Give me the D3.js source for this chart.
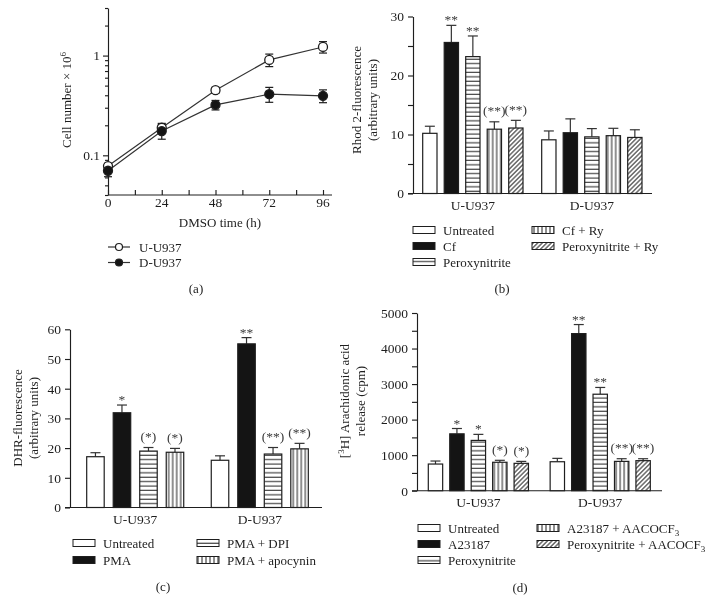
<!DOCTYPE html>
<html><head><meta charset="utf-8">
<script src="https://cdn.jsdelivr.net/npm/d3@7/dist/d3.min.js"></script>
<style>
html,body{margin:0;padding:0;background:#fff;}
svg text{font-family:"Liberation Serif","Times New Roman",serif;fill:#1e1e1e;}
</style></head><body>
<svg id="c" width="716" height="613"></svg>
<script>
// ---------- Panel (a) data ----------
const aTimes = [0, 24, 48, 72, 96];
const aUval = [0.078, 0.189, 0.45, 0.905, 1.22];
const aUerr = [0.005, 0.02, 0.03, 0.13, 0.16];
const aDval = [0.070, 0.175, 0.32, 0.41, 0.395];
const aDerr = [0.009, 0.03, 0.035, 0.07, 0.058];
const aXticks = [0, 24, 48, 72, 96];
const aYmajor = [0.1, 1];
const aLegend = ["U-U937", "D-U937"];

// ---------- Panel (b) data ----------
const groups = ["U-U937", "D-U937"];
const bSeries = ["Untreated", "Cf", "Peroxynitrite", "Cf + Ry", "Peroxynitrite + Ry"];
const bU = [10.2, 25.6, 23.2, 10.9, 11.1];
const bUerr = [1.2, 2.9, 3.5, 1.25, 1.3];
const bD = [9.1, 10.3, 9.6, 9.8, 9.5];
const bDerr = [1.5, 2.35, 1.4, 1.25, 1.3];
const bSigU = ["", "**", "**", "(**)", "(**)"];
const bSigD = ["", "", "", "", ""];
const bYticks = [0, 10, 20, 30];

// ---------- Panel (c) data ----------
const cSeries = ["Untreated", "PMA", "PMA + DPI", "PMA + apocynin"];
const cU = [17.1, 31.9, 19.0, 18.6];
const cUerr = [1.35, 2.6, 1.2, 1.3];
const cD = [15.9, 55.1, 18.0, 19.75];
const cDerr = [1.5, 2.1, 2.2, 1.85];
const cSigU = ["", "*", "(*)", "(*)"];
const cSigD = ["", "**", "(**)", "(**)"];
const cYticks = [0, 10, 20, 30, 40, 50, 60];

// ---------- Panel (d) data ----------
const dSeries = ["Untreated", "A23187", "Peroxynitrite", "A23187 + AACOCF3", "Peroxynitrite + AACOCF3"];
const dU = [750, 1600, 1415, 800, 770];
const dUerr = [85, 150, 170, 55, 55];
const dD = [815, 4420, 2715, 825, 845];
const dDerr = [95, 255, 190, 75, 55];
const dSigU = ["", "*", "*", "(*)", "(*)"];
const dSigD = ["", "**", "**", "(**)", "(**)"];
const dYticks = [0, 1000, 2000, 3000, 4000, 5000];

const root = d3.select("#c");
const INK = "#1e1e1e";
const defs = root.append("defs");
const gf = defs.append("filter").attr("id", "gray").attr("filterUnits", "userSpaceOnUse")
  .attr("x", 0).attr("y", 0).attr("width", 716).attr("height", 613);
gf.append("feColorMatrix").attr("type", "saturate").attr("values", 0);
const svg = root.append("g").attr("filter", "url(#gray)");
svg.append("rect").attr("width", 716).attr("height", 613).attr("fill", "#fff");

// patterns
function mkPattern(id, w, h, draw, transform) {
  const p = defs.append("pattern").attr("id", id).attr("patternUnits", "userSpaceOnUse")
    .attr("width", w).attr("height", h);
  if (transform) p.attr("patternTransform", transform);
  p.append("rect").attr("width", w).attr("height", h).attr("fill", "#fff");
  draw(p);
}
mkPattern("hl", 8, 4.4, p => p.append("line").attr("x1", 0).attr("x2", 8).attr("y1", 2).attr("y2", 2).attr("stroke", INK).attr("stroke-width", 1));
mkPattern("vl", 4, 8, p => p.append("line").attr("x1", 2).attr("x2", 2).attr("y1", 0).attr("y2", 8).attr("stroke", INK).attr("stroke-width", 1));
mkPattern("dg", 3.2, 8, p => p.append("line").attr("x1", 1.6).attr("x2", 1.6).attr("y1", 0).attr("y2", 8).attr("stroke", INK).attr("stroke-width", 1), "rotate(45)");
const fills = {white: "#fff", black: "#141414", hl: "url(#hl)", vl: "url(#vl)", dg: "url(#dg)"};

function styleAxis(g, fs) {
  g.attr("font-family", null).attr("font-size", null);
  g.selectAll("text").attr("font-size", fs || 13.5).style("fill", INK);
  g.selectAll("line,path").attr("stroke", INK).attr("stroke-width", 1.15);
}

function yTitle(x, y, lines) {
  const t = svg.append("text").attr("transform", `translate(${x},${y}) rotate(-90)`)
    .attr("text-anchor", "middle").attr("font-size", 13);
  lines.forEach((ln, i) => {
    const ts = t.append("tspan").attr("x", 0).attr("dy", i === 0 ? 0 : 16);
    ln.forEach(part => {
      const s = ts.append("tspan").text(part.t);
      if (part.sup) s.attr("font-size", 9).attr("baseline-shift", "super");
      if (part.sub) s.attr("font-size", 9).attr("baseline-shift", "sub");
    });
  });
  return t;
}

// ================= Panel (a) =================
(function () {
  const x = d3.scaleLinear().domain([0, 96]).range([108, 323]);
  const y = d3.scaleLog().domain([0.04, 3]).range([195, 8]);
  const minor = [];
  [0.01, 0.1, 1].forEach(dec => { for (let k = 2; k <= 9; k++) { const v = dec * k; if (v >= 0.04 && v <= 3.0001) minor.push(v); } });
  const gyMin = svg.append("g").attr("transform", "translate(108,0)")
    .call(d3.axisLeft(y).tickValues(minor).tickSize(3).tickFormat("").tickSizeOuter(0));
  styleAxis(gyMin);
  gyMin.select(".domain").remove();
  const gy = svg.append("g").attr("transform", "translate(108,0)")
    .call(d3.axisLeft(y).tickValues(aYmajor).tickSize(5).tickPadding(3).tickFormat(d3.format("")).tickSizeOuter(0));
  styleAxis(gy);
  const gx = svg.append("g").attr("transform", "translate(0,195)")
    .call(d3.axisBottom(x).tickValues(d3.range(0, 97, 12)).tickSize(-5).tickFormat("").tickSizeOuter(0));
  styleAxis(gx);
  gx.select(".domain").attr("d", "M108,0H332");
  svg.append("g").selectAll("text").data(aXticks).join("text")
    .attr("x", d => x(d)).attr("y", 207).attr("text-anchor", "middle").attr("font-size", 13.5).text(d => d);
  svg.append("text").attr("x", 220).attr("y", 226.5).attr("text-anchor", "middle").attr("font-size", 13).text("DMSO time (h)");
  const yt = svg.append("text").attr("transform", "translate(71,100) rotate(-90)").attr("text-anchor", "middle").attr("font-size", 13);
  yt.append("tspan").text("Cell number × 10");
  yt.append("tspan").text("6").attr("font-size", 9).attr("baseline-shift", "super");

  const series = [
    {vals: aUval, err: aUerr, fill: "#fff"},
    {vals: aDval, err: aDerr, fill: "#141414"}
  ];
  const line = d3.line().x((d, i) => x(aTimes[i])).y(d => y(d));
  series.forEach(s => {
    svg.append("path").attr("d", line(s.vals)).attr("fill", "none").attr("stroke", "#333").attr("stroke-width", 1.2);
  });
  series.forEach(s => {
    const g = svg.append("g");
    s.vals.forEach((v, i) => {
      const cx = x(aTimes[i]), y1 = y(v + s.err[i]), y2 = y(Math.max(v - s.err[i], 0.001));
      g.append("line").attr("x1", cx).attr("x2", cx).attr("y1", y1).attr("y2", y2).attr("stroke", INK).attr("stroke-width", 1.2);
      [y1, y2].forEach(yy => g.append("line").attr("x1", cx - 4).attr("x2", cx + 4).attr("y1", yy).attr("y2", yy).attr("stroke", INK).attr("stroke-width", 1.2));
    });
  });
  series.forEach(s => {
    svg.append("g").selectAll("circle").data(s.vals).join("circle")
      .attr("cx", (d, i) => x(aTimes[i])).attr("cy", d => y(d)).attr("r", 4.5)
      .attr("fill", s.fill).attr("stroke", INK).attr("stroke-width", 1.3);
  });
  aLegend.forEach((name, i) => {
    const yy = 247 + i * 15.5;
    svg.append("line").attr("x1", 108).attr("x2", 130).attr("y1", yy).attr("y2", yy).attr("stroke", "#333").attr("stroke-width", 1.2);
    svg.append("circle").attr("cx", 119).attr("cy", yy).attr("r", 3.5).attr("fill", series[i].fill).attr("stroke", INK).attr("stroke-width", 1.2);
    svg.append("text").attr("x", 139).attr("y", yy + 4.5).attr("font-size", 13).text(name);
  });
  svg.append("text").attr("x", 196).attr("y", 292.5).attr("text-anchor", "middle").attr("font-size", 13).text("(a)");
})();

// ============ generic bar panel ============
function barPanel(o) {
  const y = d3.scaleLinear().domain(o.ydom).range([o.y0, o.y1]);
  const xg = d3.scaleBand().domain(groups).range(o.xr).paddingInner(o.gpad).paddingOuter(0);
  const xb = d3.scaleBand().domain(o.series).range([0, xg.bandwidth()]).paddingInner(o.bpad).paddingOuter(0);
  if (o.minor) {
    const gm = svg.append("g").attr("transform", `translate(${o.ax},0)`)
      .call(d3.axisLeft(y).tickValues(o.minor).tickSize(5).tickFormat("").tickSizeOuter(0));
    styleAxis(gm); gm.select(".domain").remove();
  }
  const gy = svg.append("g").attr("transform", `translate(${o.ax},0)`)
    .call(d3.axisLeft(y).tickValues(o.yticks).tickSize(5).tickPadding(4).tickFormat(d3.format("d")).tickSizeOuter(0));
  styleAxis(gy);
  svg.append("line").attr("x1", o.ax - 5).attr("x2", o.xend).attr("y1", o.y0).attr("y2", o.y0).attr("stroke", INK).attr("stroke-width", 1.15);
  const data = [[o.U, o.Uerr, o.sigU], [o.D, o.Derr, o.sigD]];
  groups.forEach((gname, gi) => {
    const [vals, errs, sig] = data[gi];
    const g = svg.append("g").attr("transform", `translate(${xg(gname)},0)`);
    o.series.forEach((s, si) => {
      const bx = xb(s), bw = xb.bandwidth(), v = vals[si], e = errs[si];
      const cx = bx + bw / 2;
      const et = y(v + e);
      g.append("line").attr("x1", cx).attr("x2", cx).attr("y1", y(v)).attr("y2", et).attr("stroke", "#333").attr("stroke-width", 1.2);
      g.append("line").attr("x1", cx - 5).attr("x2", cx + 5).attr("y1", et).attr("y2", et).attr("stroke", "#333").attr("stroke-width", 1.2);
      g.append("rect").attr("x", bx).attr("width", bw).attr("y", y(v)).attr("height", o.y0 - y(v))
        .attr("fill", fills[o.fills[si]]).attr("stroke", INK).attr("stroke-width", 1.2);
      if (sig[si]) {
        const paren = sig[si].startsWith("(");
        g.append("text").attr("x", cx).attr("y", et - (paren ? 6.5 : 1)).attr("text-anchor", "middle")
          .attr("font-size", 13.5).style("fill", "#3a3a3a").text(sig[si]);
      }
    });
    svg.append("text").attr("x", xg(gname) + xg.bandwidth() / 2).attr("y", o.catY).attr("text-anchor", "middle")
      .attr("font-size", 13.5).text(gname);
  });
  o.legend.forEach(it => {
    const si = it.i;
    svg.append("rect").attr("x", it.x).attr("y", it.y - 3.5).attr("width", 22).attr("height", 7)
      .attr("fill", fills[o.fills[si]]).attr("stroke", INK).attr("stroke-width", 1);
    const t = svg.append("text").attr("x", it.x + 30).attr("y", it.y + 4.5).attr("font-size", 13);
    const name = o.series[si];
    if (name.endsWith("AACOCF3")) {
      t.append("tspan").text(name.slice(0, -1));
      t.append("tspan").text("3").attr("font-size", 9).attr("dy", 3);
    } else t.text(name);
  });
  svg.append("text").attr("x", o.lab[0]).attr("y", o.lab[1]).attr("text-anchor", "middle").attr("font-size", 13).text(o.lab[2]);
}

// ================= Panel (b) =================
barPanel({
  series: bSeries, fills: ["white", "black", "hl", "vl", "dg"],
  U: bU, Uerr: bUerr, D: bD, Derr: bDerr, sigU: bSigU, sigD: bSigD,
  ydom: [0, 30], y0: 193.5, y1: 16.5, yticks: bYticks, minor: [5, 15, 25],
  ax: 413, xend: 652, xr: [422.7, 642], gpad: 0.157, bpad: 0.335, catY: 209.5,
  legend: [{i: 0, x: 413, y: 230}, {i: 1, x: 413, y: 246}, {i: 2, x: 413, y: 262}, {i: 3, x: 532, y: 230}, {i: 4, x: 532, y: 246}],
  lab: [502, 292.5, "(b)"]
});
yTitle(361, 100, [[{t: "Rhod 2-fluorescence"}], [{t: "(arbitrary units)"}]]);

// ================= Panel (c) =================
barPanel({
  series: cSeries, fills: ["white", "black", "hl", "vl"],
  U: cU, Uerr: cUerr, D: cD, Derr: cDerr, sigU: cSigU, sigD: cSigD,
  ydom: [0, 60], y0: 507.5, y1: 329.3, yticks: cYticks, minor: null,
  ax: 70, xend: 322, xr: [86.7, 308.3], gpad: 0.221, bpad: 0.34, catY: 523.5,
  legend: [{i: 0, x: 73, y: 543}, {i: 1, x: 73, y: 560}, {i: 2, x: 197, y: 543}, {i: 3, x: 197, y: 560}],
  lab: [163, 590.5, "(c)"]
});
yTitle(22, 418, [[{t: "DHR-fluorescence"}], [{t: "(arbitrary units)"}]]);

// ================= Panel (d) =================
barPanel({
  series: dSeries, fills: ["white", "black", "hl", "vl", "dg"],
  U: dU, Uerr: dUerr, D: dD, Derr: dDerr, sigU: dSigU, sigD: dSigD,
  ydom: [0, 5000], y0: 490.7, y1: 313, yticks: dYticks, minor: [500, 1500, 2500, 3500, 4500],
  ax: 417, xend: 662, xr: [428.3, 650.3], gpad: 0.178, bpad: 0.33, catY: 506.5,
  legend: [{i: 0, x: 418, y: 528}, {i: 1, x: 418, y: 544}, {i: 2, x: 418, y: 560}, {i: 3, x: 537, y: 528}, {i: 4, x: 537, y: 544}],
  lab: [520, 591.5, "(d)"]
});
yTitle(349, 401, [[{t: "["}, {t: "3", sup: true}, {t: "H] Arachidonic acid"}], [{t: "release (cpm)"}]]);
</script>
</body></html>
